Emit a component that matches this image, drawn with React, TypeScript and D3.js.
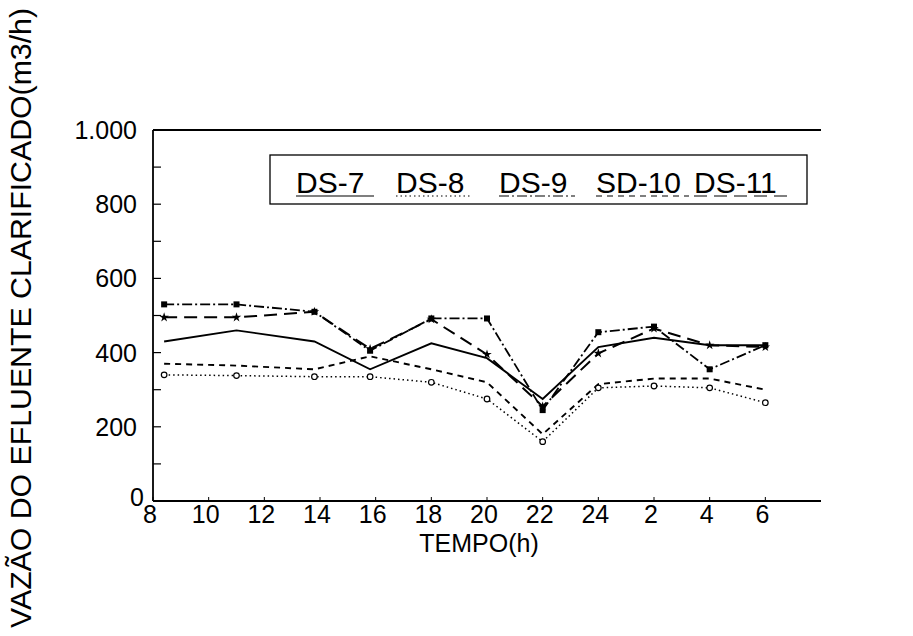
import React from "react";
import * as d3 from "d3";

// Sampling times (hours, continuing past midnight as 24+h)
const hours = [8.4, 11, 13.8, 15.8, 18, 20, 22, 24, 26, 28, 30];

// Clarified effluent flow per decanter (m3/h)
const ds7 = [430, 460, 430, 355, 425, 385, 275, 415, 440, 420, 420];
const ds8 = [340, 338, 335, 335, 320, 275, 160, 305, 310, 305, 265];
const ds9 = [530, 530, 510, 405, 492, 492, 245, 455, 470, 355, 420];
const sd10 = [370, 365, 355, 390, 355, 320, 180, 315, 330, 330, 300];
const ds11 = [495, 495, 510, 410, 490, 395, 255, 398, 465, 420, 415];

const seriesNames = ["DS-7", "DS-8", "DS-9", "SD-10", "DS-11"];

const xTickValues = [8, 10, 12, 14, 16, 18, 20, 22, 24, 26, 28, 30];
const xTickLabels = ["8", "10", "12", "14", "16", "18", "20", "22", "24", "2", "4", "6"];
const yTickValues = [0, 200, 400, 600, 800, 1000];
const yTickLabels = ["0", "200", "400", "600", "800", "1.000"];

const W = 913;
const H = 636;
const left = 153;
const right = 821;
const top = 130;
const bottom = 501;

const FONT = "'Liberation Sans', Arial, Helvetica, sans-serif";

type Style = { dash: string; width: number; marker: "none" | "square" | "circle" | "star" };

const styles: Style[] = [
  { dash: "none", width: 1.9, marker: "none" },
  { dash: "1.5,3", width: 1.5, marker: "circle" },
  { dash: "10,3,2,3", width: 1.8, marker: "square" },
  { dash: "6,5", width: 1.9, marker: "none" },
  { dash: "13,7", width: 2, marker: "star" },
];

export default function App() {
  const x = d3.scaleLinear().domain([8, 32]).range([left, right]);
  const y = d3.scaleLinear().domain([0, 1000]).range([bottom, top]);
  const data = [ds7, ds8, ds9, sd10, ds11];

  const line = (vals: number[]) =>
    d3.line<number>()
      .x((_, i) => x(hours[i]))
      .y((v) => y(v))(vals) || "";

  const minorY = d3.range(100, 1000, 100);

  // legend layout
  const legX = [296, 396, 499, 596, 694];
  const legW = [78, 76, 76, 93, 95];

  return (
    <svg width={W} height={H} style={{ display: "block", position: "absolute", left: 0, top: 0 }}>
      <rect width={W} height={H} fill="#fff" />

      {/* frame */}
      <line x1={left} y1={top} x2={right} y2={top} stroke="#000" strokeWidth={1.8} />
      <line x1={left} y1={top} x2={left} y2={bottom} stroke="#000" strokeWidth={1.8} />
      <line x1={left} y1={bottom} x2={right} y2={bottom} stroke="#000" strokeWidth={1.8} />

      {/* y ticks */}
      {minorY.map((v) => (
        <line key={"yt" + v} x1={left} x2={left + 8} y1={y(v)} y2={y(v)} stroke="#000" strokeWidth={1.2} />
      ))}
      {yTickValues.map((v, i) => (
        <text
          key={"yl" + v}
          x={v === 0 ? left - 9 : left - 16}
          y={y(v) + (v === 0 ? 5 : 9)}
          textAnchor="end"
          fontFamily={FONT}
          fontSize={25}
          fill="#000"
        >
          {yTickLabels[i]}
        </text>
      ))}

      {/* x ticks */}
      {xTickValues.map((v, i) => (
        <g key={"xt" + v}>
          <line x1={x(v)} x2={x(v)} y1={bottom} y2={bottom - 4} stroke="#000" strokeWidth={1} />
          <text x={x(v) - 3} y={bottom + 22} textAnchor="middle" fontFamily={FONT} fontSize={25} fill="#000">
            {xTickLabels[i]}
          </text>
        </g>
      ))}

      {/* axis titles */}
      <text x={(left + right) / 2 - 8} y={552} textAnchor="middle" fontFamily={FONT} fontSize={25} fill="#000">
        TEMPO(h)
      </text>
      <text
        transform={`translate(31, 318) rotate(-90)`}
        textAnchor="middle"
        fontFamily={FONT}
        fontSize={29}
        textLength={620}
        lengthAdjust="spacingAndGlyphs"
        fill="#000"
      >
        VAZÃO DO EFLUENTE CLARIFICADO(m3/h)
      </text>

      {/* series lines */}
      {data.map((vals, s) => (
        <path
          key={"l" + s}
          d={line(vals)}
          fill="none"
          stroke="#000"
          strokeWidth={styles[s].width}
          strokeDasharray={styles[s].dash}
        />
      ))}

      {/* markers */}
      {data.map((vals, s) =>
        vals.map((v, i) => {
          const cx = x(hours[i]);
          const cy = y(v);
          const m = styles[s].marker;
          if (m === "square")
            return <rect key={`m${s}-${i}`} x={cx - 3} y={cy - 3} width={6} height={6} fill="#000" />;
          if (m === "circle")
            return <circle key={`m${s}-${i}`} cx={cx} cy={cy} r={2.8} fill="#fff" stroke="#000" strokeWidth={1.2} />;
          if (m === "star")
            return (
              <path
                key={`m${s}-${i}`}
                d={d3.symbol(d3.symbolStar, 28)() || ""}
                transform={`translate(${cx},${cy})`}
                fill="#000"
              />
            );
          return null;
        })
      )}

      {/* legend */}
      <rect x={270} y={155} width={537} height={49} fill="#fff" stroke="#000" strokeWidth={1.3} />
      {seriesNames.map((n, i) => (
        <g key={"lg" + n}>
          <text x={legX[i]} y={193} fontFamily={FONT} fontSize={30} fill="#000">
            {n}
          </text>
          <line
            x1={legX[i]}
            x2={legX[i] + legW[i]}
            y1={196}
            y2={196}
            stroke="#000"
            strokeWidth={1.2}
            strokeDasharray={styles[i].dash}
          />
        </g>
      ))}
    </svg>
  );
}
